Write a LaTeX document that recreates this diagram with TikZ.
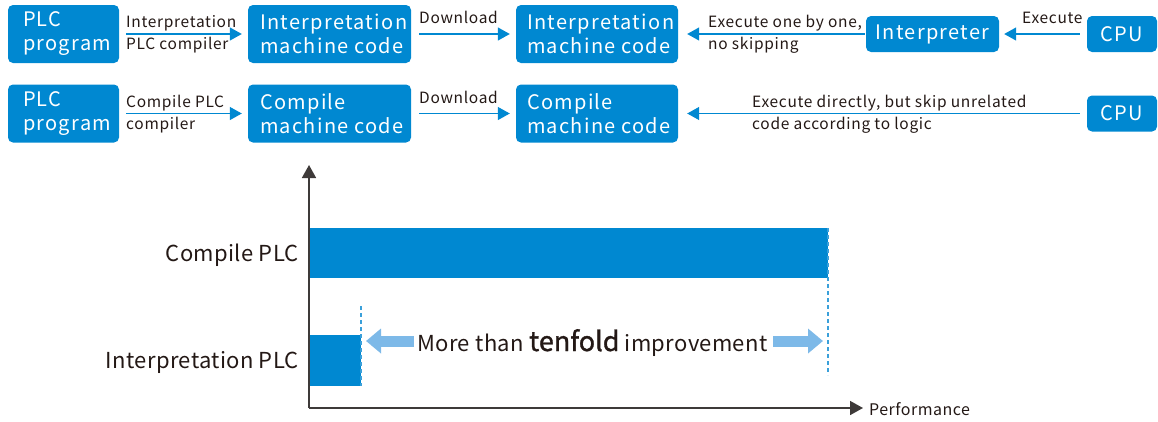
\documentclass[tikz,border=0pt]{standalone}
\usepackage{fontspec}
\setmainfont{Noto Sans CJK SC}
\usetikzlibrary{arrows.meta}
\definecolor{boxblue}{HTML}{0088D1}
\definecolor{lightblue}{HTML}{7DB9E8}
\definecolor{dashblue}{HTML}{3AA0DA}
\definecolor{txt}{HTML}{231815}
\definecolor{axis}{HTML}{3E3A39}
\begin{document}
\begin{tikzpicture}[x=1pt,y=-1pt,
  box/.style={fill=boxblue,rounded corners=5pt,minimum height=58pt,inner sep=0pt},
  btxt/.style={text=white,anchor=west,inner sep=0pt,align=left,font=\fontsize{20}{24}\selectfont\addfontfeatures{LetterSpace=6.5}},
  sbox/.style={fill=boxblue,text=white,rounded corners=5pt,minimum height=36pt,inner sep=0pt,font=\fontsize{20}{23}\selectfont\addfontfeatures{LetterSpace=6.5}},
  lbl/.style={text=txt,inner sep=0pt,font=\fontsize{15.5}{22}\selectfont\addfontfeatures{LetterSpace=4.5}},
  flow/.style={draw=boxblue,line width=1.3pt,-{Triangle[length=12pt,width=13pt]}},
  big/.style={line width=11pt,draw=lightblue,-{Triangle[length=15pt,width=24pt]}},
  dline/.style={draw=dashblue,line width=1.4pt,dash pattern=on 4pt off 3pt},
  ax/.style={draw=axis,line width=1.6pt,-{Triangle[length=13pt,width=14pt]}},
  clbl/.style={text=txt,inner sep=0pt,font=\fontsize{22}{26}\selectfont\addfontfeatures{LetterSpace=1.5}}]
\useasboundingbox (0,0) rectangle (1158,421);
% row 1
\node[box,minimum width=111pt] (p1) at (63.5,34) {};
\node[btxt] (p1t) at ([xshift=15pt]p1.west) {PLC\\program};
\node[box,minimum width=163pt] (i1) at (329.5,34) {};
\node[btxt] (i1t) at ([xshift=12pt]i1.west) {Interpretation\\machine code};
\node[box,minimum width=162pt] (m1) at (597,34) {};
\node[btxt] (m1t) at ([xshift=11pt]m1.west) {Interpretation\\machine code};
\node[sbox,minimum width=133pt] (ip) at (932.5,34) {Interpreter};
\node[sbox,minimum width=70pt] (c1) at (1122,34) {CPU};
\draw[flow,shorten <=7pt,shorten >=6pt] (p1.east) -- (i1.west);
\draw[flow,shorten <=8pt,shorten >=6pt] (i1.east) -- (m1.west);
\draw[flow,shorten <=1pt,shorten >=9pt] (ip.west) -- (m1.east);
\draw[flow,shorten <=7pt,shorten >=5pt] (c1.west) -- (ip.east);
\node[lbl,anchor=base west] (l1a) at (126,27) {Interpretation};
\node[lbl,anchor=base west] (l1b) at (126,49) {PLC compiler};
\node[lbl,anchor=base west] (l1c) at (419,23) {Download};
\node[lbl,anchor=base west] (l1d) at (708,27) {Execute one by one,};
\node[lbl,anchor=base west] (l1e) at (708,49) {no skipping};
\node[lbl,anchor=base west] (l1f) at (1022,23) {Execute};
% row 2
\node[box,minimum width=111pt] (p2) at (63.5,113.5) {};
\node[btxt] (p2t) at ([xshift=15pt]p2.west) {PLC\\program};
\node[box,minimum width=163pt] (i2) at (329.5,113.5) {};
\node[btxt] (i2t) at ([xshift=12pt]i2.west) {Compile\\machine code};
\node[box,minimum width=162pt] (m2) at (597,113.5) {};
\node[btxt] (m2t) at ([xshift=11pt]m2.west) {Compile\\machine code};
\node[sbox,minimum width=70pt] (c2) at (1122,113.5) {CPU};
\draw[flow,shorten <=7pt,shorten >=6pt] (p2.east) -- (i2.west);
\draw[flow,shorten <=8pt,shorten >=6pt] (i2.east) -- (m2.west);
\draw[flow,shorten <=7pt,shorten >=9pt] (c2.west) -- (m2.east);
\node[lbl,anchor=base west] (l2a) at (126,107) {Compile PLC};
\node[lbl,anchor=base west] (l2b) at (126,129) {compiler};
\node[lbl,anchor=base west] (l2c) at (419,103) {Download};
\node[lbl,anchor=base west] (l2d) at (752,107) {Execute directly, but skip unrelated};
\node[lbl,anchor=base west] (l2e) at (752,129) {code according to logic};
% chart
\coordinate (o) at (309,408);
\coordinate (ytop) at (309,165);
\coordinate (xend) at (863,408);
\fill[boxblue] (309,228) rectangle (828,278);
\fill[boxblue] (309,335) rectangle (361,386);
\draw[dline] (361,306) -- (361,386);
\draw[dline] (828,228) -- (828,375);
\draw[ax] (o) -- (ytop);
\draw[ax] (o) -- (xend);
\node[clbl,anchor=base east] (cp) at (299,261) {Compile PLC};
\node[clbl,anchor=base east] (ipl) at (299,368) {Interpretation PLC};
\node[text=txt,inner sep=0pt,anchor=base west,font=\fontsize{16}{19}\selectfont\addfontfeatures{LetterSpace=3}] (perf) at (869,415) {Performance};
\node[clbl,anchor=base] (imp) at (592.5,351) {More than {\fontsize{27}{30}\selectfont\addfontfeatures{FakeBold=1.2,LetterSpace=0}tenfold} improvement};
\coordinate (la) at (414,341);
\coordinate (lt) at (366,341);
\coordinate (ra) at (773,341);
\coordinate (rt) at (823,341);
\draw[big] (la) -- (lt);
\draw[big] (ra) -- (rt);
\end{tikzpicture}
\end{document}
